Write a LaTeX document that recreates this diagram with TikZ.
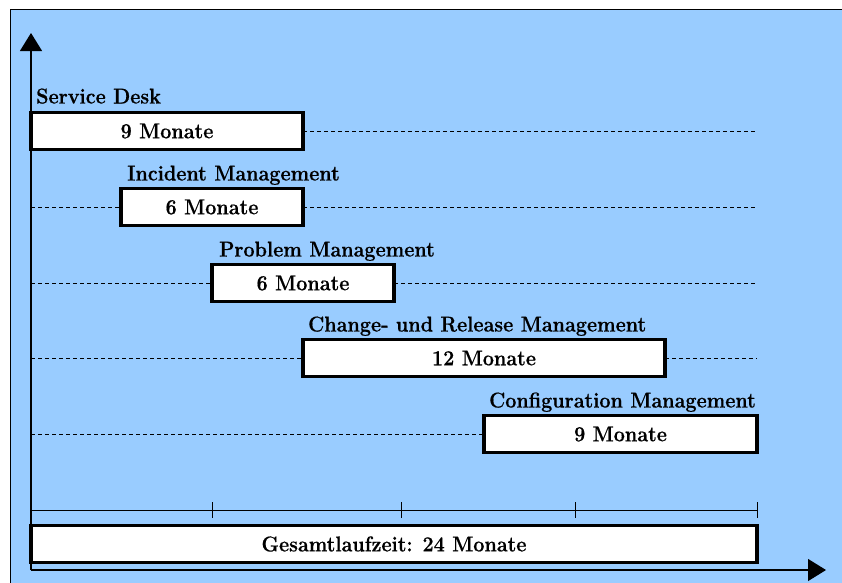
\documentclass[tikz,border=0pt]{standalone}
\usepackage{graphicx}
\usepackage{fontspec}
\usetikzlibrary{arrows.meta}
\definecolor{skyfill}{RGB}{153,204,255}
% heavier bold face for all labels
\newfontfamily\heavybold[FakeBold=0.6]{lmroman12-bold.otf}
% bold text, slightly condensed
\newcommand\cbold[1]{\scalebox{0.92}[1]{#1}}
\begin{document}
\begin{tikzpicture}[x=1pt,y=-1pt,
  font=\heavybold\fontsize{21.5}{25}\selectfont,
  bar/.style={draw=black,fill=white,line width=3.2pt,outer sep=0pt,
    minimum height=37pt,inner sep=0pt},
  lbl/.style={anchor=base west,inner sep=0pt},
  guide/.style={dash pattern=on 4pt off 3pt,line width=0.8pt},
  axis/.style={line width=1.2pt,-{Triangle[length=18pt,width=22pt]}},
  tick/.style={line width=0.9pt}]
\useasboundingbox (0,0) rectangle (842,582);
% background panel
\fill[skyfill] (10,9) rectangle (846,590);
\draw[line width=1pt] (10,590) -- (10,9) -- (846,9);

% origin and ends of the axes
\coordinate (o) at (31,570);
\coordinate (yt) at (31,33);
\coordinate (xt) at (826,570);

% phase bars
\node[bar,minimum width=272pt] (sd) at (167,131) {\cbold{9 Monate}};
\node[bar,minimum width=182pt] (im) at (212,207) {\cbold{6 Monate}};
\node[bar,minimum width=182pt] (pm) at (303,283) {\cbold{6 Monate}};
\node[bar,minimum width=362pt] (cr) at (484,358) {\cbold{12 Monate}};
\node[bar,minimum width=273pt] (cm) at (620.5,434) {\cbold{9 Monate}};
\node[bar,minimum width=726pt] (tot) at (394,544) {\cbold{Gesamtlaufzeit: 24 Monate}};

% phase titles
\node[lbl] at ([shift={(5,-9)}]sd.north west) {\cbold{Service Desk}};
\node[lbl] at ([shift={(6,-8)}]im.north west) {\cbold{Incident Management}};
\node[lbl] at ([shift={(7,-8)}]pm.north west) {\cbold{Problem Management}};
\node[lbl] at ([shift={(5,-8)}]cr.north west) {\cbold{Change- und Release Management}};
\node[lbl] at ([shift={(5,-8)}]cm.north west) {\cbold{Configuration Management}};

% dashed guides
\coordinate (l2) at (31,207);
\coordinate (l3) at (31,283);
\coordinate (l4) at (31,358);
\coordinate (l5) at (31,434);
\coordinate (r1) at (757,131);
\coordinate (r2) at (757,207);
\coordinate (r3) at (757,283);
\coordinate (r4) at (757,358);
\draw[guide] (sd.east) -- (r1);
\draw[guide] (l2) -- (im.west) (im.east) -- (r2);
\draw[guide] (l3) -- (pm.west) (pm.east) -- (r3);
\draw[guide] (l4) -- (cr.west) (cr.east) -- (r4);
\draw[guide] (l5) -- (cm.west);

% time scale
\coordinate (s0) at (31,510);
\coordinate (s4) at (757,510);
\draw[tick] (s0) -- (s4);
\foreach \t in {212,401,575,757}
  \draw[tick] (\t,502) -- (\t,518);

% axes
\draw[axis] (o) -- (yt);
\draw[axis] (o) -- (xt);
\end{tikzpicture}
\end{document}
